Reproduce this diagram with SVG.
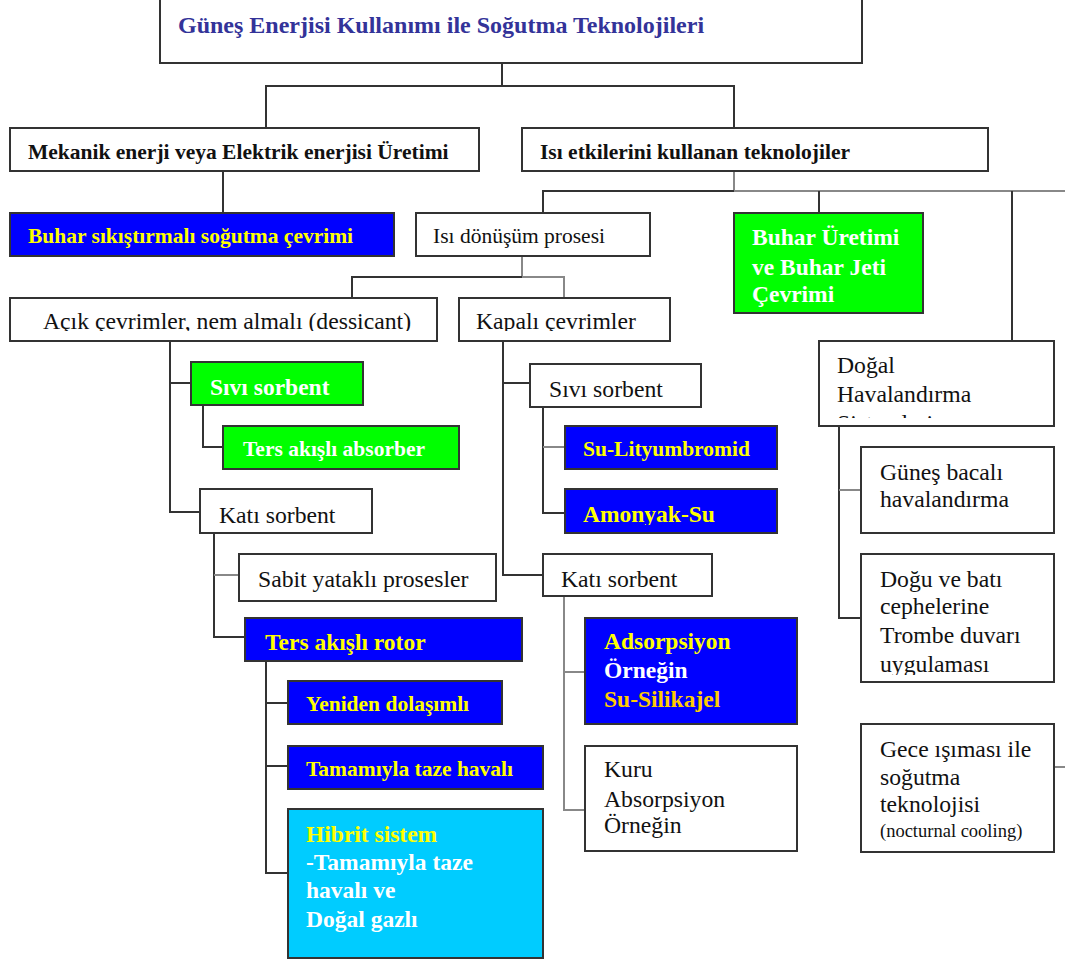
<svg xmlns="http://www.w3.org/2000/svg" width="1065" height="963" viewBox="0 0 1065 963">
<style>
.bx{fill:#fff;stroke:#333;stroke-width:2}
.bl{fill:#0000ff;stroke:#333;stroke-width:2}
.gr{fill:#00ff00;stroke:#333;stroke-width:2}
.cy{fill:#00ccff;stroke:#333;stroke-width:2}
text{font-family:"Liberation Serif","Times New Roman",serif}
.r{font-size:23.7px;fill:#111}
.b{font-weight:bold}
.s1{font-size:21.5px}
.s2{font-size:23.5px}
.y{fill:#ffff00}
.w{fill:#ffffff}
.k{fill:#111}
.ln{fill:none;stroke:#333;stroke-width:2}
.lg{fill:none;stroke:#888;stroke-width:2}
</style>
<defs>
<clipPath id="cAcik"><rect x="10" y="298" width="427" height="33"/></clipPath>
<clipPath id="cKap"><rect x="459" y="298" width="211" height="33"/></clipPath>
<clipPath id="cAmo"><rect x="565" y="489" width="212" height="36"/></clipPath>
<clipPath id="cDogal"><rect x="819" y="341" width="235" height="77"/></clipPath>
<clipPath id="cDogu"><rect x="861" y="554" width="193" height="121"/></clipPath>
</defs>
<rect width="1065" height="963" fill="#fff"/>
<g id="connectors">
<path class="ln" d="M502 63V86M266 128V86H734V128"/>
<path class="ln" d="M223 171V213"/>
<path class="lg" d="M734 171V191"/>
<path class="ln" d="M543 213V191H734"/>
<path class="lg" d="M734 191H1065"/>
<path class="ln" d="M819 191V213M1012 191V341"/>
<path class="lg" d="M522 256V277"/>
<path class="ln" d="M352 298V277H522"/>
<path class="lg" d="M522 277H564V298"/>
<path class="ln" d="M170 341V512H200M170 383H191"/>
<path class="ln" d="M203 405V447H223"/>
<path class="ln" d="M214 533V637H245"/>
<path class="lg" d="M214 575H239"/>
<path class="ln" d="M266 661V873H288M266 703H288M266 766H288"/>
<path class="ln" d="M503 341V575H543M503 383H530"/>
<path class="ln" d="M543 407V513H565"/>
<path class="lg" d="M543 447H565"/>
<path class="lg" d="M564 596V810H585M564 672H585"/>
<path class="ln" d="M839 426V618H861"/>
<path class="lg" d="M839 490H861"/>
<path class="lg" d="M1054 767H1065"/>
</g>
<g id="n-title"><rect class="bx" x="160" y="-2" width="702" height="65"/><text x="178" y="33" font-weight="bold" font-size="24" fill="#333399">Güneş Enerjisi Kullanımı ile Soğutma Teknolojileri</text></g>
<g id="n-mekanik"><rect class="bx" x="10" y="128" width="469" height="43"/><text class="b s1 k" x="28" y="159">Mekanik enerji veya Elektrik enerjisi Üretimi</text></g>
<g id="n-isi"><rect class="bx" x="522" y="128" width="466" height="43"/><text class="b s1 k" x="540" y="159">Isı etkilerini kullanan teknolojiler</text></g>
<g id="n-buharsik"><rect class="bl" x="10" y="213" width="384" height="43"/><text class="b s1 y" x="28" y="243">Buhar sıkıştırmalı soğutma çevrimi</text></g>
<g id="n-donusum"><rect class="bx" x="416" y="213" width="234" height="43"/><text class="s1 k" x="433" y="243">Isı dönüşüm prosesi</text></g>
<g id="n-buharuretim"><rect class="gr" x="734" y="213" width="189" height="100"/><text class="b s2 w" x="752" y="245">Buhar Üretimi</text><text class="b s2 w" x="752" y="275">ve Buhar Jeti</text><text class="b s2 w" x="752" y="302">Çevrimi</text></g>
<g id="n-acik"><rect class="bx" x="10" y="298" width="427" height="43"/><text class="r" x="43" y="329" clip-path="url(#cAcik)">Açık çevrimler, nem almalı (dessicant)</text></g>
<g id="n-kapali"><rect class="bx" x="459" y="298" width="211" height="43"/><text class="r" x="476" y="329" clip-path="url(#cKap)">Kapalı çevrimler</text></g>
<g id="n-sivi1"><rect class="gr" x="191" y="362" width="172" height="43"/><text class="b s2 w" x="210" y="395">Sıvı sorbent</text></g>
<g id="n-tersabs"><rect class="gr" x="223" y="426" width="236" height="43"/><text class="b s1 w" x="243" y="456">Ters akışlı absorber</text></g>
<g id="n-kati1"><rect class="bx" x="200" y="489" width="172" height="44"/><text class="r" x="219" y="523">Katı sorbent</text></g>
<g id="n-sabit"><rect class="bx" x="239" y="554" width="257" height="47"/><text class="r" x="258" y="587">Sabit yataklı prosesler</text></g>
<g id="n-rotor"><rect class="bl" x="245" y="618" width="277" height="43"/><text class="b s2 y" x="265" y="650">Ters akışlı rotor</text></g>
<g id="n-yeniden"><rect class="bl" x="288" y="681" width="214" height="43"/><text class="b s1 y" x="306" y="711">Yeniden dolaşımlı</text></g>
<g id="n-tamamen"><rect class="bl" x="288" y="746" width="255" height="43"/><text class="b s1 y" x="306" y="776">Tamamıyla taze havalı</text></g>
<g id="n-hibrit"><rect class="cy" x="288" y="809" width="255" height="149"/><text class="b s2 y" x="306" y="842">Hibrit sistem</text><text class="b s2 w" x="306" y="870">-Tamamıyla taze</text><text class="b s2 w" x="306" y="898">havalı ve</text><text class="b s2 w" x="306" y="927">Doğal gazlı</text></g>
<g id="n-sivi2"><rect class="bx" x="530" y="364" width="171" height="43"/><text class="r" x="549" y="397">Sıvı sorbent</text></g>
<g id="n-sulity"><rect class="bl" x="565" y="426" width="212" height="43"/><text class="b s1 y" x="583" y="456">Su-Lityumbromid</text></g>
<g id="n-amonyak"><rect class="bl" x="565" y="489" width="212" height="44"/><text class="b s2 y" x="583" y="522" clip-path="url(#cAmo)">Amonyak-Su</text></g>
<g id="n-kati2"><rect class="bx" x="543" y="554" width="169" height="42"/><text class="r" x="561" y="587">Katı sorbent</text></g>
<g id="n-adsorp"><rect class="bl" x="585" y="618" width="212" height="106"/><text class="b s2 y" x="604" y="649">Adsorpsiyon</text><text class="b s2 w" x="604" y="678">Örneğin</text><text class="b s2" x="604" y="707" fill="#ffcc00">Su-Silikajel</text></g>
<g id="n-kuru"><rect class="bx" x="585" y="746" width="212" height="105"/><text class="r" x="604" y="777">Kuru</text><text class="r" x="604" y="807">Absorpsiyon</text><text class="r" x="604" y="833">Örneğin</text></g>
<g id="n-dogal"><rect class="bx" x="819" y="341" width="235" height="85"/><g clip-path="url(#cDogal)"><text class="r" x="837" y="373">Doğal</text><text class="r" x="837" y="402">Havalandırma</text><text class="r" x="837" y="431">Sistemleri</text></g></g>
<g id="n-bacali"><rect class="bx" x="861" y="447" width="193" height="86"/><text class="r" x="880" y="480">Güneş bacalı</text><text class="r" x="880" y="507">havalandırma</text></g>
<g id="n-dogu"><rect class="bx" x="861" y="554" width="193" height="128"/><g clip-path="url(#cDogu)"><text class="r" x="880" y="587">Doğu ve batı</text><text class="r" x="880" y="614">cephelerine</text><text class="r" x="880" y="643">Trombe duvarı</text><text class="r" x="880" y="672">uygulaması</text></g></g>
<g id="n-gece"><rect class="bx" x="861" y="724" width="193" height="128"/><text class="r" x="880" y="757">Gece ışıması ile</text><text class="r" x="880" y="785">soğutma</text><text class="r" x="880" y="812">teknolojisi</text><text x="880" y="837" font-size="18.5" fill="#111">(nocturnal cooling)</text></g>
</svg>
